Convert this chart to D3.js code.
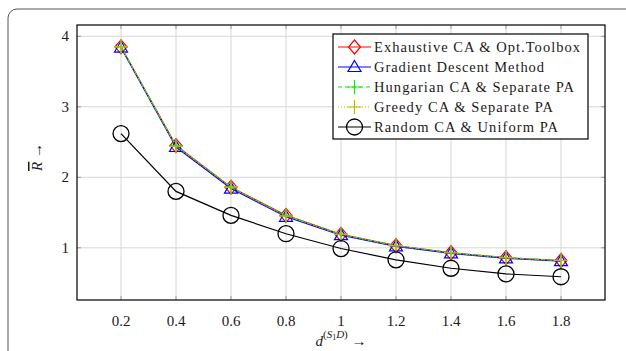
<!DOCTYPE html>
<html>
<head>
<meta charset="utf-8">
<script src="https://cdn.jsdelivr.net/npm/d3@7"></script>
<style>
  body { margin: 0; background: #fff; }
</style>
</head>
<body>
<div id="chart"></div>
<script>
// data
const xValues = [0.2, 0.4, 0.6, 0.8, 1.0, 1.2, 1.4, 1.6, 1.8];
const exhaustive = [3.85, 2.45, 1.86, 1.46, 1.19, 1.03, 0.93, 0.86, 0.82];
const gradient   = [3.84, 2.43, 1.84, 1.44, 1.18, 1.02, 0.92, 0.85, 0.81];
const hungarian  = [3.85, 2.45, 1.86, 1.46, 1.19, 1.03, 0.93, 0.86, 0.82];
const greedy     = [3.85, 2.44, 1.86, 1.45, 1.19, 1.03, 0.93, 0.86, 0.82];
const random     = [2.62, 1.80, 1.46, 1.20, 0.99, 0.83, 0.71, 0.63, 0.59];
const xTicks = [0.2, 0.4, 0.6, 0.8, 1, 1.2, 1.4, 1.6, 1.8];
const yTicks = [1, 2, 3, 4];
const seriesNames = [
    "Exhaustive CA & Opt.Toolbox",
    "Gradient Descent Method",
    "Hungarian CA & Separate PA",
    "Greedy CA & Separate PA",
    "Random CA & Uniform PA"
];
// widths of the legend texts as seen in the picture (Computer Modern is wider than Times)
const nameWidths = [206, 170, 200, 179, 184];

const width = 626, height = 351;
const svg = d3.select("#chart").append("svg")
    .attr("width", width).attr("height", height)
    .attr("font-family", "'Liberation Serif', Tinos, 'Times New Roman', 'Noto Serif', 'DejaVu Serif', FreeSerif, serif")
    .attr("fill", "#1a1a1a");

// outer rounded frame (runs off the right/bottom edge)
svg.append("rect")
    .attr("x", 8).attr("y", 9)
    .attr("width", 640).attr("height", 360)
    .attr("rx", 9).attr("ry", 9)
    .attr("fill", "none").attr("stroke", "#555").attr("stroke-width", 1);

const pLeft = 77, pRight = 605, pTop = 25, pBottom = 300;
const x = d3.scaleLinear().domain([0.04, 1.96]).range([pLeft, pRight]);
const y = d3.scaleLinear().domain([0.26, 4.16]).range([pBottom, pTop]);

// grid
const grid = svg.append("g");
grid.selectAll(".gx").data(xTicks).enter().append("line")
    .attr("x1", d => x(d)).attr("x2", d => x(d))
    .attr("y1", pTop).attr("y2", pBottom)
    .attr("stroke", "#d6d6d6").attr("stroke-width", 1);
grid.selectAll(".gy").data(yTicks).enter().append("line")
    .attr("x1", pLeft).attr("x2", pRight)
    .attr("y1", d => y(d)).attr("y2", d => y(d))
    .attr("stroke", "#d6d6d6").attr("stroke-width", 1);

// tick marks inside the box, both sides
const ticks = svg.append("g").attr("stroke", "#9a9a9a").attr("stroke-width", 1);
xTicks.forEach(t => {
    ticks.append("line").attr("x1", x(t)).attr("x2", x(t)).attr("y1", pBottom).attr("y2", pBottom - 4);
    ticks.append("line").attr("x1", x(t)).attr("x2", x(t)).attr("y1", pTop).attr("y2", pTop + 4);
});
yTicks.forEach(t => {
    ticks.append("line").attr("x1", pLeft).attr("x2", pLeft + 4).attr("y1", y(t)).attr("y2", y(t));
    ticks.append("line").attr("x1", pRight).attr("x2", pRight - 4).attr("y1", y(t)).attr("y2", y(t));
});

// tick labels
svg.append("g").selectAll("text").data(xTicks).enter().append("text")
    .attr("x", d => x(d)).attr("y", 326)
    .attr("text-anchor", "middle").attr("font-size", 15)
    .text(d => d3.format("")(d));
svg.append("g").selectAll("text").data(yTicks).enter().append("text")
    .attr("x", 69).attr("y", d => y(d) + 5)
    .attr("text-anchor", "end").attr("font-size", 15)
    .text(d => d);

// axis labels
const xl = svg.append("text").attr("x", 341).attr("y", 346)
    .attr("text-anchor", "middle").attr("font-size", 15);
xl.append("tspan").attr("font-style", "italic").text("d");
xl.append("tspan").attr("dy", -8).attr("font-size", 11).text("(");
xl.append("tspan").attr("font-size", 11).attr("font-style", "italic").text("S");
xl.append("tspan").attr("font-size", 8).attr("dy", 2).text("1");
xl.append("tspan").attr("font-size", 11).attr("font-style", "italic").attr("dy", -2).text("D");
xl.append("tspan").attr("font-size", 11).text(")");
xl.append("tspan").attr("dy", 8).text(" \u2192");

const yl = svg.append("g").attr("transform", "translate(42,157) rotate(-90)");
yl.append("text").attr("text-anchor", "middle").attr("font-size", 15)
    .html('<tspan font-style="italic" text-decoration="overline">R</tspan> \u2192');

// series styles
const styles = [
    { data: exhaustive, color: "#ff0000", dash: null, marker: "diamond" },
    { data: gradient, color: "#0000ff", dash: null, marker: "triangle" },
    { data: hungarian, color: "#00ee00", dash: "4,3", marker: "plus" },
    { data: greedy, color: "#c8b400", dash: "1,2", marker: "plus" },
    { data: random, color: "#000000", dash: null, marker: "circle" }
];

function drawMarker(g, type, color) {
    if (type === "diamond") {
        g.append("path").attr("d", "M0,-7L6,0L0,7L-6,0Z")
            .attr("fill", "none").attr("stroke", color).attr("stroke-width", 1.2);
    } else if (type === "triangle") {
        g.append("path").attr("d", "M0,-6.5L6.5,4.5L-6.5,4.5Z")
            .attr("fill", "none").attr("stroke", color).attr("stroke-width", 1.2);
    } else if (type === "plus") {
        g.append("path").attr("d", "M-7,0H7M0,-7V7")
            .attr("fill", "none").attr("stroke", color).attr("stroke-width", 1.2);
    } else if (type === "circle") {
        g.append("circle").attr("r", 8)
            .attr("fill", "none").attr("stroke", color).attr("stroke-width", 1.3);
    }
}

const line = d3.line().x((d, i) => x(xValues[i])).y(d => y(d));
const plot = svg.append("g");
styles.forEach(s => {
    plot.append("path").datum(s.data)
        .attr("d", line)
        .attr("fill", "none").attr("stroke", s.color).attr("stroke-width", 1.2)
        .attr("stroke-dasharray", s.dash);
    s.data.forEach((v, i) => {
        const g = plot.append("g").attr("transform", `translate(${x(xValues[i])},${y(v)})`);
        drawMarker(g, s.marker, s.color);
    });
});

// axis box
svg.append("rect").attr("x", pLeft).attr("y", pTop)
    .attr("width", pRight - pLeft).attr("height", pBottom - pTop)
    .attr("fill", "none").attr("stroke", "#000").attr("stroke-width", 1.2);

// legend
const legend = svg.append("g").attr("transform", "translate(333,34)");
legend.append("rect").attr("width", 255).attr("height", 105)
    .attr("fill", "#fff").attr("stroke", "#000").attr("stroke-width", 1.2);
styles.forEach((s, i) => {
    const row = legend.append("g").attr("transform", `translate(0,${13 + i * 20})`);
    row.append("line").attr("x1", 5).attr("x2", 38)
        .attr("stroke", s.color).attr("stroke-width", 1.2)
        .attr("stroke-dasharray", s.dash);
    const m = row.append("g").attr("transform", "translate(21.5,0)");
    drawMarker(m, s.marker, s.color);
    const t = row.append("text").attr("x", 41).attr("y", 5)
        .attr("font-size", 14.5)
        .text(seriesNames[i]);
    // stretch only if the installed font runs narrower than the picture
    if (t.node().getComputedTextLength() < nameWidths[i]) {
        t.attr("textLength", nameWidths[i]).attr("lengthAdjust", "spacing");
    }
});
</script>
</body>
</html>
